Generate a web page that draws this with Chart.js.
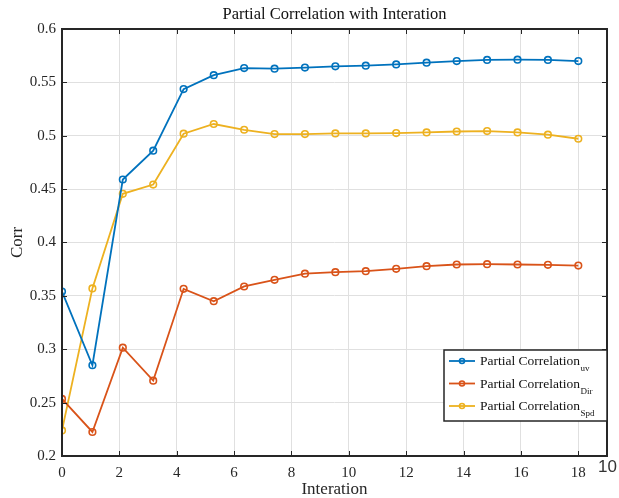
<!DOCTYPE html>
<html>
<head>
<meta charset="utf-8">
<script src="https://cdn.jsdelivr.net/npm/chart.js@4"></script>
<style>
  html, body { margin: 0; padding: 0; background: #fff; }
  #wrap { width: 619px; height: 498px; }
</style>
</head>
<body>
<div id="wrap"><canvas id="corr-chart" width="619" height="498"></canvas></div>
<script>
// Iteration positions (x)
const iterations = [0, 1.06, 2.12, 3.18, 4.24, 5.29, 6.35, 7.41, 8.47, 9.53, 10.59, 11.65, 12.71, 13.76, 14.82, 15.88, 16.94, 18];

// Series values
const corrUV = [0.354, 0.285, 0.459, 0.486, 0.5437, 0.5567, 0.5634, 0.5628, 0.5639, 0.565, 0.5656, 0.5668, 0.5685, 0.570, 0.571, 0.5713, 0.571, 0.570];
const corrDir = [0.2535, 0.2225, 0.3015, 0.2706, 0.3566, 0.345, 0.3588, 0.365, 0.3708, 0.3722, 0.3731, 0.3753, 0.3778, 0.3794, 0.3797, 0.3794, 0.3791, 0.3784];
const corrSpd = [0.224, 0.357, 0.4456, 0.4543, 0.5019, 0.511, 0.5056, 0.5016, 0.5016, 0.5022, 0.5022, 0.5025, 0.5031, 0.504, 0.5044, 0.5031, 0.501, 0.4972];

// Tick labels
const xTicks = [0, 2, 4, 6, 8, 10, 12, 14, 16, 18];
const yTicks = ['0.2', '0.25', '0.3', '0.35', '0.4', '0.45', '0.5', '0.55', '0.6'];

// Legend entries (main text + subscript)
const seriesNames = ['Partial Correlation', 'Partial Correlation', 'Partial Correlation'];
const seriesSubs = ['uv', 'Dir', 'Spd'];
const seriesColors = ['#0072BD', '#D95319', '#EDB120'];

const serif = '"Liberation Serif", "Times New Roman", serif';
const axisColor = '#262626';

function toPoints(values) {
    return values.map((v, i) => ({ x: iterations[i], y: v }));
}

function makeDataset(values, idx) {
    return {
        label: seriesNames[idx] + seriesSubs[idx],
        data: toPoints(values),
        borderColor: seriesColors[idx],
        backgroundColor: 'rgba(255,255,255,0)',
        borderWidth: 1.8,
        pointRadius: 3.3,
        pointBorderWidth: 1.6,
        pointBackgroundColor: 'rgba(255,255,255,0)',
        pointBorderColor: seriesColors[idx],
        tension: 0
    };
}

// Draws the box, inward ticks, titles, legend and the stray "10"
const matlabLook = {
    id: 'matlabLook',
    afterDraw(chart) {
        const ctx = chart.ctx;
        const area = chart.chartArea;
        const xs = chart.scales.x;
        const ys = chart.scales.y;
        const tickLen = 5;

        ctx.save();
        ctx.strokeStyle = axisColor;
        ctx.lineWidth = 1;
        ctx.beginPath();
        xTicks.forEach(t => {
            const px = Math.round(xs.getPixelForValue(t)) + 0.5;
            ctx.moveTo(px, area.bottom);
            ctx.lineTo(px, area.bottom - tickLen);
            ctx.moveTo(px, area.top);
            ctx.lineTo(px, area.top + tickLen);
        });
        yTicks.forEach(t => {
            const py = Math.round(ys.getPixelForValue(parseFloat(t))) + 0.5;
            ctx.moveTo(area.left, py);
            ctx.lineTo(area.left + tickLen, py);
            ctx.moveTo(area.right, py);
            ctx.lineTo(area.right - tickLen, py);
        });
        ctx.stroke();

        ctx.lineWidth = 2;
        ctx.strokeRect(area.left, area.top, area.right - area.left, area.bottom - area.top);

        // title and axis labels
        ctx.fillStyle = '#111';
        ctx.textAlign = 'center';
        ctx.textBaseline = 'middle';
        ctx.font = '16.5px ' + serif;
        ctx.fillText('Partial Correlation with Interation', (area.left + area.right) / 2, 15);
        ctx.font = '17px ' + serif;
        ctx.fillStyle = '#262626';
        ctx.fillText('Interation', (area.left + area.right) / 2, 490);
        ctx.save();
        ctx.translate(18, (area.top + area.bottom) / 2);
        ctx.rotate(-Math.PI / 2);
        ctx.fillText('Corr', 0, 0);
        ctx.restore();

        // legend
        const lx = 444, ly = 350, lw = 163, lh = 71;
        ctx.fillStyle = '#fff';
        ctx.fillRect(lx, ly, lw, lh);
        ctx.lineWidth = 1.5;
        ctx.strokeStyle = axisColor;
        ctx.strokeRect(lx, ly, lw, lh);
        const rows = [361, 383.5, 406];
        rows.forEach((ry, i) => {
            ctx.strokeStyle = seriesColors[i];
            ctx.lineWidth = 1.8;
            ctx.beginPath();
            ctx.moveTo(449, ry);
            ctx.lineTo(475, ry);
            ctx.stroke();
            ctx.lineWidth = 1.6;
            ctx.beginPath();
            ctx.arc(462, ry, 2.5, 0, Math.PI * 2);
            ctx.stroke();
            ctx.fillStyle = '#111';
            ctx.textAlign = 'left';
            ctx.textBaseline = 'alphabetic';
            ctx.font = '13.5px ' + serif;
            ctx.fillText(seriesNames[i], 480, ry + 4);
            const w = ctx.measureText(seriesNames[i]).width;
            ctx.font = '9px ' + serif;
            ctx.fillText(seriesSubs[i], 480 + w + 0.5, ry + 10);
        });

        // stray exponent text at the bottom right
        ctx.fillStyle = '#333';
        ctx.font = '17px "Liberation Sans", Arial, sans-serif';
        ctx.textAlign = 'left';
        ctx.textBaseline = 'middle';
        ctx.fillText('10', 598, 467);
        ctx.restore();
    }
};

const ctx = document.getElementById('corr-chart').getContext('2d');
const corrChart = new Chart(ctx, {
    type: 'line',
    data: {
        datasets: [makeDataset(corrUV, 0), makeDataset(corrDir, 1), makeDataset(corrSpd, 2)]
    },
    options: {
        responsive: false,
        animation: false,
        layout: { padding: { top: 29, right: 12, left: 0, bottom: 0 } },
        plugins: {
            legend: { display: false },
            title: { display: false },
            tooltip: { enabled: false }
        },
        scales: {
            x: {
                type: 'linear',
                min: 0,
                max: 19,
                afterBuildTicks: scale => { scale.ticks = xTicks.map(v => ({ value: v })); },
                afterFit: scale => { scale.height = 42; },
                grid: { color: '#e0e0e0', drawTicks: false, lineWidth: 1 },
                border: { display: false },
                ticks: {
                    padding: 8,
                    maxRotation: 0,
                    color: axisColor,
                    font: { family: serif, size: 15 },
                    callback: v => String(v)
                }
            },
            y: {
                type: 'linear',
                min: 0.2,
                max: 0.6,
                afterBuildTicks: scale => { scale.ticks = yTicks.map(v => ({ value: parseFloat(v) })); },
                afterFit: scale => { scale.width = 62; },
                grid: { color: '#e0e0e0', drawTicks: false, lineWidth: 1 },
                border: { display: false },
                ticks: {
                    padding: 6,
                    color: axisColor,
                    font: { family: serif, size: 15 },
                    callback: (v, i) => yTicks[i]
                }
            }
        }
    },
    plugins: [matlabLook]
});
</script>
</body>
</html>
